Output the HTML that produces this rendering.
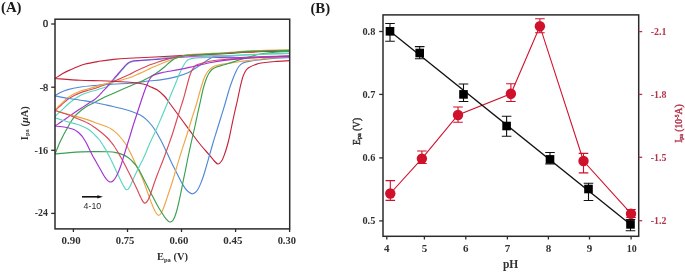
<!DOCTYPE html>
<html><head><meta charset="utf-8">
<style>
html,body{margin:0;padding:0;background:#fff;}
body{width:685px;height:272px;overflow:hidden;}
svg{display:block;will-change:transform;}
text{font-family:"Liberation Serif",serif;fill:#303030;}
.tk{font-size:9.6px;font-weight:bold;}
.pl{font-size:14.8px;font-weight:bold;fill:#1a1a1a;}
.plb{font-size:14.8px;font-weight:bold;fill:#1a1a1a;}
.ti{font-size:10.5px;font-weight:bold;}
.ti2{font-size:11.5px;font-weight:bold;}
.ti3{font-size:9.5px;font-weight:normal;stroke-width:0.4px;}
.sub{font-size:6.5px;}
.sub2{font-size:6px;}
.sup{font-size:5.5px;}
.ann{font-family:"Liberation Sans",sans-serif;font-size:8.8px;fill:#2a2a2a;}
.cv path{fill:none;stroke-width:1.15;stroke-linejoin:round;stroke-linecap:round;}
</style></head>
<body>
<svg width="685" height="272" viewBox="0 0 685 272">
<defs><clipPath id="cl"><rect x="55" y="19" width="235" height="210"/></clipPath></defs>
<g class="cv" clip-path="url(#cl)">
<path d="M55.0,116.5 C55.5,116.0 56.9,114.6 58.0,113.6 C59.1,112.6 59.8,112.2 61.4,110.7 C63.0,109.2 65.8,106.2 67.9,104.3 C70.1,102.4 72.2,100.7 74.3,99.2 C76.4,97.7 78.6,96.4 80.7,95.3 C82.8,94.2 84.8,93.5 87.0,92.8 C89.2,92.0 91.1,91.5 93.6,90.8 C96.1,90.0 99.7,89.1 102.0,88.3 C104.3,87.5 106.2,86.8 107.6,86.2 C109.0,85.6 109.7,85.1 110.6,84.4 C111.5,83.7 112.3,83.1 113.0,82.2 C113.7,81.3 113.7,80.3 114.6,79.0 C115.5,77.7 117.1,76.0 118.4,74.4 C119.7,72.8 121.2,71.1 122.5,69.6 C123.8,68.1 125.2,66.4 126.4,65.2 C127.6,64.0 128.6,63.2 129.8,62.6 C131.0,62.0 132.1,61.7 133.4,61.4 C134.7,61.1 134.6,61.3 137.4,61.0 C140.2,60.7 144.6,60.2 150.0,59.6 C155.4,59.0 163.3,58.0 170.0,57.4 C176.7,56.8 180.0,56.1 190.0,55.8 C200.0,55.5 220.8,55.8 230.0,55.6 C239.2,55.5 239.2,55.2 245.0,54.9 C250.8,54.6 257.3,54.3 265.0,54.0 C272.7,53.7 286.7,53.4 291.0,53.3" stroke="#5ad6c0"/>
<path d="M55.0,110.8 C55.5,110.3 56.9,108.8 58.0,107.8 C59.1,106.8 59.8,106.4 61.4,105.0 C63.0,103.6 65.8,100.8 67.9,99.2 C70.1,97.6 72.2,96.5 74.3,95.4 C76.4,94.3 78.6,93.4 80.7,92.6 C82.8,91.8 84.8,91.2 87.0,90.6 C89.2,90.0 91.6,89.4 93.6,88.8 C95.6,88.2 96.9,87.7 99.1,86.9 C101.3,86.1 104.4,85.0 107.0,84.0 C109.6,83.0 112.2,81.9 114.7,80.9 C117.2,79.9 119.5,78.8 122.0,77.8 C124.5,76.8 127.1,75.7 129.4,74.6 C131.7,73.5 134.1,72.0 136.0,71.0 C137.9,70.0 138.7,69.7 141.0,68.7 C143.3,67.7 147.0,66.0 150.0,64.8 C153.0,63.6 156.3,62.7 159.0,61.8 C161.7,60.9 163.3,60.4 166.0,59.6 C168.7,58.8 172.2,57.8 175.0,57.2 C177.8,56.6 180.5,56.2 183.0,55.9 C185.5,55.6 182.2,55.8 190.0,55.3 C197.8,54.8 220.8,53.6 230.0,53.1 C239.2,52.6 239.2,52.3 245.0,52.0 C250.8,51.7 257.3,51.4 265.0,51.2 C272.7,51.0 286.7,50.7 291.0,50.6" stroke="#d84b57"/>
<path d="M55.0,95.8 C56.0,95.2 58.9,93.2 61.0,92.2 C63.1,91.2 64.6,90.5 67.9,89.6 C71.2,88.7 76.4,87.7 80.7,87.0 C85.0,86.3 89.1,86.0 93.6,85.6 C98.1,85.2 101.5,84.8 107.6,84.4 C113.7,84.0 123.1,83.9 130.0,83.3 C136.9,82.7 143.5,81.6 148.8,81.0 C154.1,80.4 157.3,80.3 162.0,79.6 C166.7,78.9 172.5,77.7 176.8,76.6 C181.1,75.5 185.0,74.1 188.0,72.8 C191.0,71.5 192.8,69.9 195.0,68.5 C197.2,67.1 199.0,65.9 201.0,64.5 C203.0,63.1 205.1,61.5 207.2,60.2 C209.3,58.9 211.3,57.4 213.8,56.8 C216.3,56.2 216.8,56.5 222.0,56.6 C227.2,56.7 237.8,57.5 245.0,57.6 C252.2,57.7 257.3,57.4 265.0,57.3 C272.7,57.2 286.7,57.0 291.0,56.9" stroke="#4f89d6"/>
<path d="M55.0,126.0 C55.8,125.5 58.0,124.0 59.5,123.0 C61.0,122.0 62.4,121.1 64.0,120.0 C65.6,118.9 67.3,117.6 69.0,116.4 C70.7,115.2 72.3,114.0 74.3,112.7 C76.2,111.4 78.5,109.9 80.7,108.5 C82.9,107.1 85.5,105.4 87.2,104.3 C88.9,103.2 89.7,102.6 91.0,101.8 C92.3,101.0 93.7,100.2 95.0,99.2 C96.3,98.2 97.5,97.0 98.7,95.8 C99.9,94.6 101.0,93.2 102.1,92.1 C103.1,91.0 104.0,90.2 105.0,89.2 C106.0,88.2 106.8,87.2 107.8,86.0 C108.8,84.8 109.9,83.5 110.9,82.2 C111.9,81.0 112.8,79.9 114.0,78.5 C115.2,77.1 116.7,75.5 118.0,74.0 C119.3,72.5 120.8,70.7 122.1,69.2 C123.4,67.7 124.8,66.0 126.0,64.8 C127.2,63.6 128.2,62.8 129.4,62.2 C130.6,61.6 131.7,61.3 133.0,61.0 C134.3,60.7 132.5,60.9 137.0,60.6 C141.5,60.3 151.2,59.8 160.0,59.2 C168.8,58.6 178.3,57.0 190.0,56.8 C201.7,56.6 220.8,57.7 230.0,57.8 C239.2,57.9 239.2,57.5 245.0,57.3 C250.8,57.1 257.3,56.9 265.0,56.6 C272.7,56.4 286.7,55.9 291.0,55.8" stroke="#a332d2"/>
<path d="M55.0,78.5 C56.2,77.8 59.5,75.4 62.0,74.0 C64.5,72.6 66.0,71.7 69.7,70.1 C73.4,68.5 79.5,65.8 84.4,64.3 C89.3,62.8 94.2,62.1 99.1,61.3 C104.0,60.5 108.9,59.9 113.8,59.4 C118.7,58.9 121.6,58.7 128.5,58.3 C135.4,57.9 144.8,57.5 155.0,57.0 C165.2,56.5 177.5,55.7 190.0,55.1 C202.5,54.5 220.8,53.9 230.0,53.4 C239.2,52.9 239.2,52.6 245.0,52.3 C250.8,52.0 257.3,51.8 265.0,51.5 C272.7,51.2 286.7,50.9 291.0,50.8" stroke="#c42439"/>
<path d="M55.0,110.2 C55.5,109.6 56.9,107.9 58.0,106.8 C59.1,105.7 59.8,105.1 61.4,103.6 C63.0,102.1 65.8,99.2 67.9,97.6 C70.1,96.0 72.2,94.9 74.3,93.8 C76.4,92.7 78.6,91.8 80.7,91.0 C82.8,90.2 84.8,89.8 87.0,89.2 C89.2,88.6 91.6,88.0 93.6,87.4 C95.6,86.8 96.9,86.2 99.1,85.6 C101.2,85.0 104.2,84.2 106.5,83.6 C108.8,83.0 110.7,82.6 113.1,82.0 C115.5,81.4 118.3,80.9 121.0,80.2 C123.7,79.5 126.7,78.7 129.4,77.8 C132.1,76.9 134.6,75.7 137.0,74.6 C139.4,73.5 141.9,72.4 144.1,71.4 C146.3,70.4 148.2,69.4 150.0,68.6 C151.8,67.8 153.3,67.0 155.0,66.3 C156.7,65.6 158.2,65.0 160.0,64.2 C161.8,63.5 163.7,62.7 166.0,61.8 C168.3,60.9 171.1,59.7 173.8,58.8 C176.5,57.9 179.3,56.9 182.0,56.2 C184.7,55.5 182.0,55.2 190.0,54.6 C198.0,54.0 220.8,52.9 230.0,52.3 C239.2,51.7 239.2,51.4 245.0,51.1 C250.8,50.8 257.3,50.5 265.0,50.3 C272.7,50.1 286.7,49.8 291.0,49.7" stroke="#eea645"/>
<path d="M55.0,154.0 C55.4,153.0 56.7,150.0 57.5,148.0 C58.3,146.0 59.1,144.0 60.0,142.0 C60.9,140.0 61.9,138.1 63.0,136.0 C64.1,133.9 65.0,132.1 66.5,129.5 C68.0,126.9 70.1,122.9 71.7,120.5 C73.3,118.1 74.5,116.6 76.0,115.0 C77.5,113.4 79.0,112.1 80.7,110.7 C82.5,109.3 84.3,107.8 86.5,106.5 C88.7,105.2 91.0,104.3 93.6,103.0 C96.2,101.7 98.8,100.0 102.1,98.4 C105.3,96.8 109.4,95.1 113.1,93.4 C116.8,91.8 121.0,89.9 124.2,88.5 C127.4,87.1 129.4,86.3 132.0,85.2 C134.6,84.1 137.3,83.2 140.0,82.0 C142.7,80.8 145.6,79.3 148.0,78.0 C150.4,76.7 152.7,75.5 154.7,74.2 C156.7,73.0 158.3,71.8 160.0,70.5 C161.7,69.2 163.3,67.9 165.0,66.5 C166.7,65.1 168.3,63.3 170.0,62.0 C171.7,60.7 173.0,59.5 175.0,58.6 C177.0,57.7 179.5,57.0 182.0,56.4 C184.5,55.8 182.0,55.6 190.0,55.0 C198.0,54.4 220.8,53.4 230.0,52.8 C239.2,52.2 239.2,51.9 245.0,51.6 C250.8,51.3 257.3,51.1 265.0,50.9 C272.7,50.7 286.7,50.4 291.0,50.3" stroke="#3a9f50"/>
<path d="M55.0,78.5 C59.2,78.8 72.5,79.9 80.0,80.3 C87.5,80.7 94.2,80.6 100.0,80.8 C105.8,81.0 110.0,81.2 115.0,81.5 C120.0,81.8 125.2,81.8 130.0,82.3 C134.8,82.8 140.4,83.4 144.0,84.2 C147.6,85.0 149.3,86.3 151.5,87.3 C153.7,88.3 155.2,88.5 157.4,90.0 C159.6,91.5 162.5,94.1 164.7,96.5 C166.9,98.9 167.7,100.6 170.6,104.5 C173.5,108.4 178.3,115.0 182.0,120.0 C185.7,125.0 189.3,130.2 192.6,134.5 C195.8,138.8 198.8,142.7 201.5,146.0 C204.2,149.3 206.7,151.8 208.8,154.3 C211.0,156.8 212.9,159.4 214.4,161.0 C215.9,162.6 216.8,164.0 218.0,164.0 C219.2,164.0 220.4,162.8 221.6,161.0 C222.8,159.2 223.8,156.3 225.0,153.0 C226.2,149.7 227.4,145.3 228.5,141.0 C229.6,136.7 230.5,131.7 231.5,127.0 C232.5,122.3 233.5,117.5 234.5,113.0 C235.5,108.5 236.6,104.2 237.5,100.0 C238.4,95.8 239.2,91.7 240.0,88.0 C240.8,84.3 242.0,79.9 242.5,78.0 C243.0,76.1 242.6,77.5 243.0,76.5 C243.4,75.5 244.3,73.2 245.0,72.0 C245.7,70.8 246.2,70.0 247.0,69.2 C247.8,68.4 248.2,68.0 249.5,67.3 C250.8,66.6 253.1,65.5 255.0,64.8 C256.9,64.1 257.9,63.5 261.2,63.0 C264.5,62.5 270.0,61.9 275.0,61.5 C280.0,61.1 288.3,60.8 291.0,60.6" stroke="#c42439"/>
<path d="M55.0,95.8 C57.1,96.2 63.6,97.6 67.9,98.3 C72.2,99.0 76.4,99.5 80.7,100.2 C85.0,100.9 89.7,101.6 93.6,102.3 C97.5,103.0 100.8,103.8 104.0,104.5 C107.2,105.2 109.7,105.7 113.1,106.5 C116.5,107.3 120.9,108.3 124.2,109.2 C127.5,110.1 130.3,111.0 133.0,112.0 C135.7,113.0 138.1,113.8 140.3,115.0 C142.5,116.2 144.4,117.8 146.2,119.4 C148.0,121.0 149.5,122.7 151.0,124.5 C152.5,126.3 153.3,127.3 155.0,130.0 C156.7,132.7 159.1,137.0 161.0,140.5 C162.9,144.0 164.1,146.8 166.2,151.2 C168.3,155.5 171.5,162.5 173.5,166.6 C175.5,170.7 176.5,172.6 178.0,175.5 C179.5,178.4 180.9,181.5 182.4,184.0 C183.9,186.5 185.3,188.9 187.0,190.5 C188.7,192.1 190.8,193.9 192.6,193.8 C194.3,193.7 196.0,192.1 197.5,190.0 C199.0,187.9 200.2,184.7 201.5,181.5 C202.8,178.3 203.8,175.1 205.0,171.0 C206.2,166.9 207.7,161.7 209.0,157.0 C210.3,152.3 211.7,147.5 213.0,143.0 C214.3,138.5 215.7,134.3 217.0,130.0 C218.3,125.7 219.7,121.3 221.0,117.0 C222.3,112.7 223.7,108.5 225.0,104.0 C226.3,99.5 227.8,94.0 229.0,90.0 C230.2,86.0 231.4,82.9 232.5,80.0 C233.6,77.1 234.4,74.8 235.5,72.5 C236.6,70.2 237.6,68.1 238.8,66.5 C240.1,64.9 241.1,63.9 243.0,63.0 C244.9,62.1 247.5,61.7 250.0,61.2 C252.5,60.7 254.7,60.4 258.0,60.0 C261.3,59.6 264.5,59.0 270.0,58.6 C275.5,58.2 287.5,57.6 291.0,57.4" stroke="#4f89d6"/>
<path d="M55.0,110.5 C56.8,111.0 62.3,112.8 66.0,113.8 C69.7,114.8 73.3,115.6 77.0,116.6 C80.7,117.6 84.3,118.7 88.0,119.9 C91.7,121.1 95.9,122.9 99.0,124.0 C102.1,125.1 104.3,125.6 106.5,126.5 C108.7,127.4 110.3,128.3 112.0,129.5 C113.7,130.7 115.2,131.9 116.8,133.4 C118.4,134.9 120.0,136.7 121.5,138.5 C123.0,140.3 124.3,142.1 125.6,144.0 C126.8,145.9 128.0,148.2 129.0,150.0 C130.0,151.8 130.3,152.6 131.5,155.0 C132.7,157.4 134.2,161.0 135.9,164.7 C137.6,168.4 140.1,173.1 141.8,177.0 C143.5,180.9 144.7,184.6 146.0,188.0 C147.3,191.4 148.3,194.7 149.4,197.6 C150.5,200.5 151.5,203.1 152.5,205.5 C153.5,207.9 154.5,210.4 155.5,212.0 C156.5,213.6 157.4,215.1 158.3,215.3 C159.2,215.6 160.1,214.7 161.0,213.5 C161.9,212.3 162.7,210.1 163.5,208.0 C164.3,205.9 165.1,203.7 166.0,201.0 C166.9,198.3 167.8,195.5 169.0,192.0 C170.2,188.5 171.8,183.6 172.9,180.0 C174.0,176.4 174.3,175.0 175.7,170.5 C177.0,166.0 179.2,158.9 181.0,153.0 C182.8,147.1 185.0,140.8 186.8,135.0 C188.6,129.2 190.4,123.2 192.0,118.0 C193.6,112.8 195.2,108.2 196.5,104.0 C197.8,99.8 198.6,96.2 199.5,93.0 C200.4,89.8 201.1,87.4 201.8,85.0 C202.6,82.6 203.1,80.7 204.0,78.5 C204.9,76.3 206.1,73.8 207.4,72.0 C208.7,70.2 210.4,68.6 212.0,67.5 C213.6,66.4 215.4,65.8 217.0,65.3 C218.6,64.8 217.8,65.0 221.5,64.4 C225.2,63.8 234.3,62.5 239.1,61.8 C243.8,61.1 246.3,60.8 250.0,60.3 C253.7,59.8 257.0,59.5 261.2,59.0 C265.4,58.5 270.0,58.0 275.0,57.6 C280.0,57.2 288.3,56.7 291.0,56.5" stroke="#eea645"/>
<path d="M55.0,154.0 C57.5,153.8 63.6,153.0 69.7,152.6 C75.8,152.2 85.4,151.7 91.8,151.6 C98.2,151.5 104.0,151.6 108.0,151.8 C112.0,152.0 113.6,152.1 116.0,152.6 C118.4,153.1 120.6,153.8 122.6,154.6 C124.6,155.4 126.3,156.3 128.0,157.5 C129.7,158.7 131.2,160.1 133.0,162.0 C134.8,163.9 136.6,165.9 138.5,169.0 C140.4,172.1 142.6,176.8 144.5,180.5 C146.4,184.2 148.4,188.4 150.0,191.5 C151.6,194.6 152.7,196.5 154.0,199.0 C155.3,201.5 156.7,204.2 158.0,206.5 C159.3,208.8 160.7,210.9 162.0,213.0 C163.3,215.1 164.7,217.3 166.0,218.8 C167.3,220.3 168.8,221.8 170.0,222.0 C171.2,222.2 172.2,221.4 173.2,220.0 C174.2,218.6 175.1,216.1 175.9,213.5 C176.8,210.9 177.5,207.8 178.3,204.5 C179.1,201.2 179.8,197.8 180.6,194.0 C181.4,190.2 182.2,186.0 183.0,182.0 C183.8,178.0 184.6,174.5 185.5,170.0 C186.4,165.5 187.4,160.0 188.5,155.0 C189.6,150.0 190.7,144.8 191.8,140.0 C192.9,135.2 194.0,130.7 195.0,126.0 C196.0,121.3 197.1,116.3 198.0,112.0 C198.9,107.7 199.9,103.8 200.7,100.0 C201.5,96.2 202.2,92.7 203.0,89.5 C203.8,86.3 204.6,83.6 205.5,81.0 C206.4,78.4 207.4,75.9 208.5,74.0 C209.6,72.1 210.8,70.6 212.0,69.5 C213.2,68.4 213.9,68.0 216.0,67.2 C218.1,66.4 220.6,66.0 224.4,64.8 C228.2,63.6 235.2,61.3 239.1,60.0 C243.0,58.7 245.1,58.1 248.0,57.2 C250.9,56.3 254.0,55.5 256.8,54.8 C259.6,54.1 262.0,53.6 265.0,53.2 C268.0,52.8 270.7,52.5 275.0,52.2 C279.3,51.9 288.3,51.4 291.0,51.3" stroke="#3a9f50"/>
<path d="M55.0,117.8 C55.8,118.1 58.2,118.9 60.0,119.5 C61.8,120.1 63.1,120.5 66.0,121.3 C68.8,122.1 74.0,123.3 77.1,124.3 C80.2,125.3 82.4,126.4 84.4,127.3 C86.4,128.2 87.6,128.8 89.0,129.8 C90.4,130.8 91.7,132.0 93.0,133.2 C94.3,134.4 95.6,135.8 96.8,137.0 C98.0,138.2 99.0,139.1 100.0,140.5 C101.0,141.9 102.0,143.6 103.0,145.2 C104.0,146.8 105.1,148.5 106.1,150.3 C107.1,152.1 108.2,154.2 109.2,156.2 C110.2,158.2 111.2,160.1 112.2,162.2 C113.2,164.3 114.2,166.6 115.2,168.8 C116.2,171.0 117.2,173.2 118.2,175.2 C119.2,177.2 120.2,179.3 121.0,181.0 C121.8,182.7 122.6,184.3 123.3,185.5 C124.0,186.7 124.5,187.6 125.0,188.3 C125.5,189.0 126.0,189.6 126.6,189.7 C127.1,189.8 127.7,189.7 128.3,189.0 C129.0,188.3 129.6,187.2 130.5,185.5 C131.4,183.8 132.4,180.9 133.5,178.5 C134.6,176.1 135.9,173.3 137.0,171.0 C138.1,168.7 139.3,166.5 140.3,164.5 C141.3,162.5 142.2,160.8 143.1,159.0 C144.0,157.2 144.8,155.3 145.6,153.5 C146.4,151.7 147.0,150.0 147.8,148.0 C148.6,146.0 149.5,143.8 150.6,141.5 C151.7,139.2 152.9,136.8 154.2,134.0 C155.5,131.2 156.8,128.1 158.2,125.0 C159.5,121.9 161.0,118.7 162.3,115.5 C163.6,112.3 164.9,109.1 166.2,106.0 C167.5,102.9 168.8,99.9 170.0,97.0 C171.2,94.1 172.3,91.3 173.5,88.5 C174.7,85.7 175.9,82.7 177.0,80.0 C178.1,77.3 179.0,74.8 180.0,72.5 C181.0,70.2 181.9,68.4 183.0,66.5 C184.1,64.6 185.1,62.5 186.3,61.3 C187.5,60.0 188.7,59.5 190.0,59.0 C191.3,58.5 192.7,58.5 194.4,58.3 C196.1,58.1 197.4,58.0 200.0,57.8 C202.6,57.6 204.7,57.6 209.7,57.3 C214.7,57.0 224.1,56.2 230.0,55.8 C235.9,55.4 239.2,55.3 245.0,55.0 C250.8,54.7 257.3,54.4 265.0,54.1 C272.7,53.8 286.7,53.5 291.0,53.4" stroke="#5ad6c0"/>
<path d="M55.0,110.5 C56.8,111.1 62.3,112.7 66.0,114.0 C69.7,115.3 73.4,116.9 77.1,118.4 C80.8,119.9 85.0,121.6 88.1,123.2 C91.2,124.8 93.5,126.6 95.8,128.2 C98.1,129.8 100.1,131.4 102.0,133.0 C103.9,134.6 105.5,136.0 107.0,137.5 C108.5,139.0 109.7,140.4 110.9,141.8 C112.1,143.2 113.0,144.6 114.0,146.0 C115.0,147.4 115.7,148.5 116.6,150.0 C117.5,151.5 118.4,153.1 119.5,155.0 C120.6,156.9 121.9,159.0 123.2,161.5 C124.5,164.0 126.0,167.1 127.5,170.0 C129.0,172.9 130.8,176.3 132.1,179.0 C133.4,181.7 134.4,183.7 135.5,186.0 C136.6,188.3 137.7,190.8 138.7,193.0 C139.7,195.2 140.6,197.3 141.5,199.0 C142.4,200.7 143.3,202.5 144.2,203.0 C145.1,203.5 145.9,202.8 146.7,202.0 C147.5,201.2 148.0,200.2 148.8,198.5 C149.6,196.8 150.5,194.0 151.4,191.5 C152.3,189.0 153.3,186.0 154.2,183.3 C155.1,180.6 156.1,177.9 157.0,175.5 C157.9,173.1 158.6,171.3 159.7,168.6 C160.8,165.8 162.2,162.4 163.5,159.0 C164.8,155.6 166.1,152.0 167.5,148.0 C168.9,144.0 170.4,140.1 172.1,135.0 C173.8,129.9 176.1,122.0 177.5,117.5 C178.9,113.0 179.6,110.9 180.5,108.0 C181.4,105.1 182.3,102.6 183.1,100.0 C183.9,97.4 184.5,95.1 185.2,92.5 C185.9,89.9 186.6,87.2 187.3,84.5 C188.0,81.8 188.8,78.8 189.5,76.5 C190.2,74.2 191.0,72.2 191.8,70.5 C192.6,68.8 193.6,67.6 194.5,66.6 C195.4,65.6 196.2,65.2 197.5,64.6 C198.8,64.0 200.0,63.8 202.0,63.2 C204.0,62.6 206.0,61.8 209.7,61.2 C213.4,60.6 218.5,60.0 224.4,59.5 C230.3,59.0 238.2,58.5 245.0,58.1 C251.8,57.7 257.3,57.2 265.0,56.9 C272.7,56.5 286.7,56.1 291.0,56.0" stroke="#d84b57"/>
<path d="M55.0,126.0 C56.2,126.1 59.9,126.4 62.4,126.8 C64.8,127.2 67.8,127.7 69.7,128.2 C71.6,128.7 72.7,129.0 74.0,129.6 C75.3,130.2 76.4,131.0 77.5,131.8 C78.6,132.6 79.6,133.6 80.5,134.5 C81.4,135.4 82.2,136.4 83.0,137.5 C83.8,138.6 84.5,139.8 85.2,141.0 C85.9,142.2 86.6,143.4 87.4,145.0 C88.2,146.6 89.1,148.6 90.0,150.5 C90.9,152.4 92.0,154.6 93.0,156.5 C94.0,158.4 95.2,160.2 96.2,162.0 C97.2,163.8 98.0,165.3 99.0,167.0 C100.0,168.7 101.1,170.6 102.0,172.2 C102.9,173.8 103.7,175.3 104.5,176.5 C105.3,177.7 106.0,178.8 106.8,179.6 C107.5,180.4 108.3,181.2 109.0,181.6 C109.7,182.0 110.3,182.1 111.0,182.0 C111.7,181.9 112.3,181.6 113.0,181.0 C113.7,180.4 114.3,179.5 115.0,178.5 C115.7,177.5 116.4,176.2 117.0,175.0 C117.6,173.8 118.2,172.4 118.8,171.0 C119.4,169.6 119.9,168.1 120.5,166.5 C121.1,164.9 121.6,163.3 122.2,161.5 C122.8,159.7 123.4,157.4 124.0,155.5 C124.6,153.6 125.0,151.9 125.6,150.0 C126.2,148.1 126.8,146.3 127.5,144.0 C128.2,141.7 129.1,139.0 130.0,136.0 C130.9,133.0 131.9,129.5 133.0,126.0 C134.1,122.5 135.4,118.6 136.6,115.0 C137.8,111.4 138.9,107.8 140.0,104.5 C141.1,101.2 142.1,98.2 143.0,95.5 C143.9,92.8 144.7,90.7 145.5,88.5 C146.3,86.3 147.2,84.2 148.0,82.5 C148.8,80.8 149.5,79.5 150.3,78.3 C151.1,77.1 151.9,76.3 153.0,75.6 C154.1,74.9 155.5,74.5 157.0,74.0 C158.5,73.5 159.9,73.0 162.0,72.6 C164.1,72.1 165.7,72.0 169.4,71.3 C173.1,70.6 180.0,69.4 184.1,68.6 C188.2,67.8 189.8,67.3 194.1,66.3 C198.4,65.3 204.6,63.8 209.7,62.8 C214.8,61.8 219.5,61.0 224.4,60.4 C229.3,59.8 235.7,59.2 239.1,58.9 C242.5,58.6 240.7,58.7 245.0,58.4 C249.3,58.1 257.3,57.6 265.0,57.3 C272.7,57.0 286.7,56.5 291.0,56.4" stroke="#a332d2"/>
</g>
<rect x="55" y="19.2" width="234.7" height="209.7" fill="none" stroke="#2b2b2b" stroke-width="1.5"/>
<line x1="51.2" y1="24.0" x2="55" y2="24.0" stroke="#2b2b2b" stroke-width="1.3"/>
<text x="45.40" y="26.90" class="tk" text-anchor="middle" textLength="5.50" lengthAdjust="spacingAndGlyphs" style="font-weight:normal;stroke:#303030;stroke-width:0.35px">0</text>
<line x1="51.2" y1="87.2" x2="55" y2="87.2" stroke="#2b2b2b" stroke-width="1.3"/>
<text x="43.95" y="90.60" class="tk" text-anchor="middle" textLength="8.60" lengthAdjust="spacingAndGlyphs" style="font-weight:normal;stroke:#303030;stroke-width:0.35px">-8</text>
<line x1="51.2" y1="150.3" x2="55" y2="150.3" stroke="#2b2b2b" stroke-width="1.3"/>
<text x="41.40" y="153.50" class="tk" text-anchor="middle" textLength="13.70" lengthAdjust="spacingAndGlyphs">-16</text>
<line x1="51.2" y1="213.4" x2="55" y2="213.4" stroke="#2b2b2b" stroke-width="1.3"/>
<text x="41.30" y="216.20" class="tk" text-anchor="middle" textLength="13.10" lengthAdjust="spacingAndGlyphs">-24</text>
<line x1="73.4" y1="228.8" x2="73.4" y2="232.0" stroke="#2b2b2b" stroke-width="1.3"/>
<text x="71.10" y="244.00" class="tk" text-anchor="middle" textLength="19.10" lengthAdjust="spacingAndGlyphs">0.90</text>
<line x1="127.5" y1="228.8" x2="127.5" y2="232.0" stroke="#2b2b2b" stroke-width="1.3"/>
<text x="125.15" y="244.00" class="tk" text-anchor="middle" textLength="18.60" lengthAdjust="spacingAndGlyphs">0.75</text>
<line x1="181.5" y1="228.8" x2="181.5" y2="232.0" stroke="#2b2b2b" stroke-width="1.3"/>
<text x="178.90" y="244.00" class="tk" text-anchor="middle" textLength="18.90" lengthAdjust="spacingAndGlyphs">0.60</text>
<line x1="235.6" y1="228.8" x2="235.6" y2="232.0" stroke="#2b2b2b" stroke-width="1.3"/>
<text x="232.95" y="244.00" class="tk" text-anchor="middle" textLength="19.20" lengthAdjust="spacingAndGlyphs">0.45</text>
<line x1="289.6" y1="228.8" x2="289.6" y2="232.0" stroke="#2b2b2b" stroke-width="1.3"/>
<text x="286.80" y="244.00" class="tk" text-anchor="middle" textLength="18.30" lengthAdjust="spacingAndGlyphs">0.30</text>
<rect x="383" y="14.9" width="255.7" height="221.4" fill="none" stroke="#2b2b2b" stroke-width="1.5"/>
<line x1="379.2" y1="31.5" x2="383" y2="31.5" stroke="#2b2b2b" stroke-width="1.3"/>
<text x="368.90" y="34.70" class="tk" text-anchor="middle" textLength="12.90" lengthAdjust="spacingAndGlyphs">0.8</text>
<line x1="379.2" y1="94.4" x2="383" y2="94.4" stroke="#2b2b2b" stroke-width="1.3"/>
<text x="368.90" y="97.90" class="tk" text-anchor="middle" textLength="12.90" lengthAdjust="spacingAndGlyphs">0.7</text>
<line x1="379.2" y1="157.9" x2="383" y2="157.9" stroke="#2b2b2b" stroke-width="1.3"/>
<text x="368.90" y="161.20" class="tk" text-anchor="middle" textLength="12.90" lengthAdjust="spacingAndGlyphs">0.6</text>
<line x1="379.2" y1="220.9" x2="383" y2="220.9" stroke="#2b2b2b" stroke-width="1.3"/>
<text x="368.90" y="223.80" class="tk" text-anchor="middle" textLength="12.90" lengthAdjust="spacingAndGlyphs">0.5</text>
<line x1="638.7" y1="31.6" x2="642.2" y2="31.6" stroke="#b3344b" stroke-width="1.3"/>
<text x="658.50" y="34.80" class="tk" text-anchor="middle" textLength="15.70" lengthAdjust="spacingAndGlyphs" style="fill:#b3344b">-2.1</text>
<line x1="638.7" y1="94.4" x2="642.2" y2="94.4" stroke="#b3344b" stroke-width="1.3"/>
<text x="658.50" y="98.10" class="tk" text-anchor="middle" textLength="15.70" lengthAdjust="spacingAndGlyphs" style="fill:#b3344b">-1.8</text>
<line x1="638.7" y1="157.3" x2="642.2" y2="157.3" stroke="#b3344b" stroke-width="1.3"/>
<text x="658.50" y="160.80" class="tk" text-anchor="middle" textLength="15.70" lengthAdjust="spacingAndGlyphs" style="fill:#b3344b">-1.5</text>
<line x1="638.7" y1="220.7" x2="642.2" y2="220.7" stroke="#b3344b" stroke-width="1.3"/>
<text x="658.50" y="224.00" class="tk" text-anchor="middle" textLength="15.70" lengthAdjust="spacingAndGlyphs" style="fill:#b3344b">-1.2</text>
<line x1="386.8" y1="236.2" x2="386.8" y2="239.5" stroke="#2b2b2b" stroke-width="1.3"/>
<text x="386.80" y="251.80" class="tk" text-anchor="middle" textLength="5.50" lengthAdjust="spacingAndGlyphs">4</text>
<line x1="424.4" y1="236.2" x2="424.4" y2="239.5" stroke="#2b2b2b" stroke-width="1.3"/>
<text x="424.40" y="251.80" class="tk" text-anchor="middle" textLength="5.50" lengthAdjust="spacingAndGlyphs">5</text>
<line x1="465.8" y1="236.2" x2="465.8" y2="239.5" stroke="#2b2b2b" stroke-width="1.3"/>
<text x="465.80" y="251.80" class="tk" text-anchor="middle" textLength="5.50" lengthAdjust="spacingAndGlyphs">6</text>
<line x1="507.4" y1="236.2" x2="507.4" y2="239.5" stroke="#2b2b2b" stroke-width="1.3"/>
<text x="507.40" y="251.80" class="tk" text-anchor="middle" textLength="5.50" lengthAdjust="spacingAndGlyphs">7</text>
<line x1="548.4" y1="236.2" x2="548.4" y2="239.5" stroke="#2b2b2b" stroke-width="1.3"/>
<text x="548.40" y="251.80" class="tk" text-anchor="middle" textLength="5.50" lengthAdjust="spacingAndGlyphs">8</text>
<line x1="589.5" y1="236.2" x2="589.5" y2="239.5" stroke="#2b2b2b" stroke-width="1.3"/>
<text x="589.50" y="251.80" class="tk" text-anchor="middle" textLength="5.50" lengthAdjust="spacingAndGlyphs">9</text>
<line x1="631.1" y1="236.2" x2="631.1" y2="239.5" stroke="#2b2b2b" stroke-width="1.3"/>
<text x="631.85" y="251.80" class="tk" text-anchor="middle" textLength="10.00" lengthAdjust="spacingAndGlyphs">10</text>
<polyline points="390.3,193.5 421.9,158.6 458.0,115.0 510.9,93.8 539.9,26.2 583.5,161.0 631.0,213.7" fill="none" stroke="#d0112b" stroke-width="1.1"/>
<line x1="390" y1="31.3" x2="630.5" y2="224.4" stroke="#111" stroke-width="1.3"/>
<path d="M390.0,23.5V41.3M385.2,23.5H394.8M385.2,41.3H394.8" stroke="#111" stroke-width="1.1" fill="none"/>
<rect x="385.7" y="27.0" width="8.6" height="8.6" fill="#000"/>
<path d="M419.7,46.6V58.8M414.9,46.6H424.5M414.9,58.8H424.5" stroke="#111" stroke-width="1.1" fill="none"/>
<rect x="415.4" y="48.7" width="8.6" height="8.6" fill="#000"/>
<path d="M463.5,84.0V101.5M458.7,84.0H468.3M458.7,101.5H468.3" stroke="#111" stroke-width="1.1" fill="none"/>
<rect x="459.2" y="90.1" width="8.6" height="8.6" fill="#000"/>
<path d="M506.6,116.3V136.3M501.8,116.3H511.4M501.8,136.3H511.4" stroke="#111" stroke-width="1.1" fill="none"/>
<rect x="502.3" y="121.7" width="8.6" height="8.6" fill="#000"/>
<path d="M550.0,152.5V164.0M545.2,152.5H554.8M545.2,164.0H554.8" stroke="#111" stroke-width="1.1" fill="none"/>
<rect x="545.7" y="155.1" width="8.6" height="8.6" fill="#000"/>
<path d="M588.5,183.3V200.5M583.7,183.3H593.3M583.7,200.5H593.3" stroke="#111" stroke-width="1.1" fill="none"/>
<rect x="584.2" y="184.7" width="8.6" height="8.6" fill="#000"/>
<path d="M630.5,219.5V230.7M625.7,219.5H635.3M625.7,230.7H635.3" stroke="#111" stroke-width="1.1" fill="none"/>
<rect x="626.2" y="220.1" width="8.6" height="8.6" fill="#000"/>
<path d="M390.3,180.6V200.4M385.5,180.6H395.1M385.5,200.4H395.1" stroke="#d0112b" stroke-width="1.1" fill="none"/>
<circle cx="390.3" cy="193.5" r="5.2" fill="#d0112b"/>
<path d="M421.9,151.0V163.5M417.1,151.0H426.7M417.1,163.5H426.7" stroke="#d0112b" stroke-width="1.1" fill="none"/>
<circle cx="421.9" cy="158.6" r="5.2" fill="#d0112b"/>
<path d="M458.0,107.0V122.2M453.2,107.0H462.8M453.2,122.2H462.8" stroke="#d0112b" stroke-width="1.1" fill="none"/>
<circle cx="458.0" cy="115.0" r="5.2" fill="#d0112b"/>
<path d="M510.9,83.8V101.5M506.1,83.8H515.7M506.1,101.5H515.7" stroke="#d0112b" stroke-width="1.1" fill="none"/>
<circle cx="510.9" cy="93.8" r="5.2" fill="#d0112b"/>
<path d="M539.9,18.8V32.8M535.1,18.8H544.7M535.1,32.8H544.7" stroke="#d0112b" stroke-width="1.1" fill="none"/>
<circle cx="539.9" cy="26.2" r="5.2" fill="#d0112b"/>
<path d="M583.5,153.4V172.9M578.7,153.4H588.3M578.7,172.9H588.3" stroke="#d0112b" stroke-width="1.1" fill="none"/>
<circle cx="583.5" cy="161.0" r="5.2" fill="#d0112b"/>
<path d="M631.0,209.5V217.5M626.2,209.5H635.8M626.2,217.5H635.8" stroke="#d0112b" stroke-width="1.1" fill="none"/>
<circle cx="631.0" cy="213.7" r="5.2" fill="#d0112b"/>
<text x="1.0" y="12.2" class="pl">(A)</text>
<text x="310.4" y="12.6" class="plb">(B)</text>
<text x="172.5" y="260.3" class="ti" text-anchor="middle">E<tspan class="sub" dy="1.2">pa</tspan><tspan dy="-1.2"> (V)</tspan></text>
<text transform="translate(28.2,123.2) rotate(-90)" class="ti" text-anchor="middle">I<tspan class="sub" dy="1.2">pa</tspan><tspan dy="-1.2"> (</tspan><tspan font-style="italic">μ</tspan>A)</text>
<line x1="82" y1="196.8" x2="99" y2="196.8" stroke="#111" stroke-width="1.6"/>
<path d="M97.3,195.2 L103,196.8 L97.3,198.4 Z" fill="#111"/>
<text x="92.4" y="209.2" class="ann" text-anchor="middle">4-10</text>
<text x="510.6" y="267.8" class="ti2" text-anchor="middle">pH</text>
<text transform="translate(359.6,131.4) rotate(-90)" class="ti3" text-anchor="middle" style="stroke:#303030">E<tspan class="sub2" dy="1">pa</tspan><tspan dy="-1"> (V)</tspan></text>
<text transform="translate(681.8,123.6) rotate(-90)" class="ti3" text-anchor="middle" style="fill:#b3344b;stroke:#b3344b">I<tspan class="sub2" dy="1">pa</tspan><tspan dy="-1"> (10</tspan><tspan class="sup" dy="-3">-5</tspan><tspan dy="3">A)</tspan></text>
</svg>
</body></html>
